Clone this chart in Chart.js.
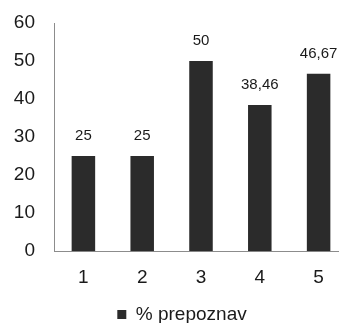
<!DOCTYPE html>
<html>
<head>
<meta charset="utf-8">
<script src="https://cdn.jsdelivr.net/npm/chart.js@4"></script>
<style>
  html, body { margin: 0; padding: 0; background: #fff; overflow: hidden; }
  #wrap { width: 348px; height: 323px; }
</style>
</head>
<body>
<div id="wrap"><canvas id="myChart" width="348" height="323"></canvas></div>
<script>
var categories = ['1', '2', '3', '4', '5'];
var values = [25, 25, 50, 38.46, 46.67];
var valueLabels = ['25', '25', '50', '38,46', '46,67'];
var yTicks = [0, 10, 20, 30, 40, 50, 60];
var seriesName = '% prepoznav';

var fontFamily = '"Liberation Sans", Arial, sans-serif';

// data labels above the bars
var barLabels = {
    id: 'barLabels',
    afterDatasetsDraw: function (chart) {
        var ctx = chart.ctx;
        var meta = chart.getDatasetMeta(0);
        ctx.save();
        ctx.fillStyle = '#1a1a1a';
        ctx.font = '15px ' + fontFamily;
        ctx.textAlign = 'center';
        ctx.textBaseline = 'middle';
        meta.data.forEach(function (bar, i) {
            ctx.fillText(valueLabels[i], bar.x, bar.y - 20);
        });
        ctx.restore();
    }
};

// nudge the legend a little to the right (canvas is wider than the window)
var legendShift = {
    id: 'legendShift',
    afterLayout: function (chart) {
        var lg = chart.legend;
        if (!lg) return;
        lg.left += 8;
        lg.right += 8;
        if (lg.legendHitBoxes) {
            lg.legendHitBoxes.forEach(function (b) { b.left += 8; });
        }
    }
};

var ctx = document.getElementById('myChart').getContext('2d');
var myChart = new Chart(ctx, {
    type: 'bar',
    data: {
        labels: categories,
        datasets: [{
            label: seriesName,
            data: values,
            backgroundColor: '#2b2b2b',
            borderColor: '#2b2b2b',
            borderWidth: 0,
            barPercentage: 0.8,
            categoryPercentage: 0.5
        }]
    },
    options: {
        responsive: false,
        animation: false,
        layout: { padding: { top: 23, left: 0, right: 0, bottom: -11 } },
        plugins: {
            legend: {
                position: 'bottom',
                labels: {
                    boxWidth: 9,
                    boxHeight: 9,
                    padding: 1,
                    color: '#1a1a1a',
                    font: { size: 19, family: fontFamily }
                }
            },
            tooltip: { enabled: false }
        },
        scales: {
            x: {
                grid: { display: false, drawTicks: false },
                border: { color: '#8c8c8c', width: 1 },
                ticks: {
                    color: '#1a1a1a',
                    padding: 15,
                    font: { size: 19, family: fontFamily }
                }
            },
            y: {
                min: 0,
                max: 60,
                afterFit: function (scale) {
                    scale.width = 54;
                    scale.paddingTop = 0;
                    scale.paddingBottom = 0;
                },
                afterBuildTicks: function (scale) {
                    scale.ticks = yTicks.map(function (v) { return { value: v }; });
                },
                grid: { display: false, drawTicks: false },
                border: { color: '#8c8c8c', width: 1 },
                ticks: {
                    color: '#1a1a1a',
                    padding: 19,
                    font: { size: 19, family: fontFamily }
                }
            }
        }
    },
    plugins: [barLabels, legendShift]
});
</script>
</body>
</html>
